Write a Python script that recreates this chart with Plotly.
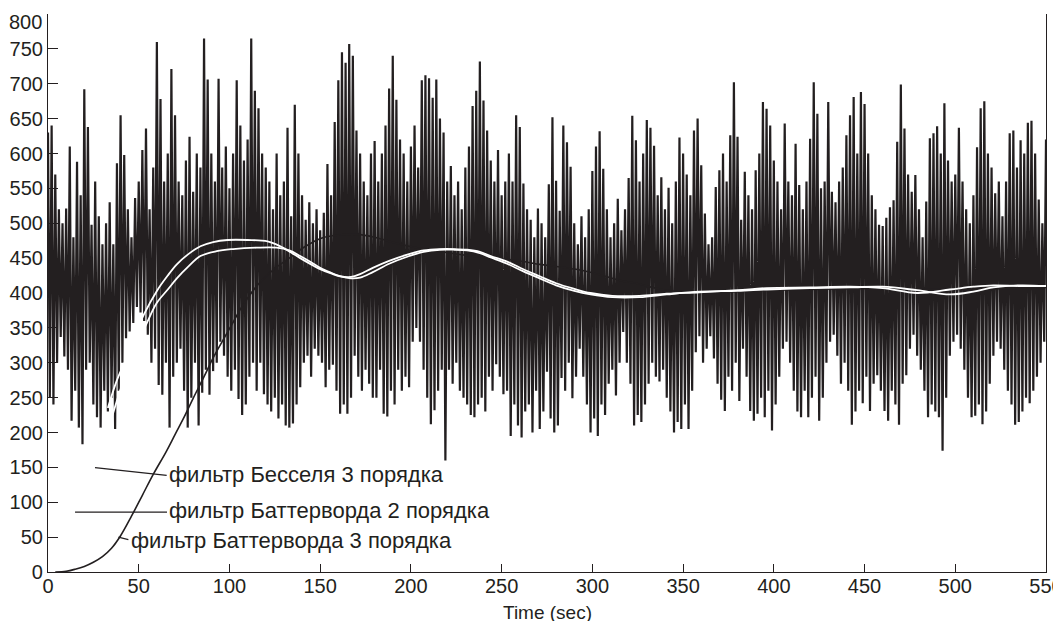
import plotly.graph_objects as go

# ---------------- data ----------------
# raw signal: local maxima sampled at even seconds, local minima at odd seconds
signal_highs = [
    630, 640, 570, 520, 500, 521, 610, 480, 588, 540,
    692, 638, 498, 560, 510, 470, 500, 530, 470, 586,
    655, 598, 520, 480, 536, 560, 605, 636, 520, 580,
    760, 678, 560, 600, 721, 655, 560, 540, 590, 624,
    545, 600, 580, 765, 706, 600, 560, 707, 580, 610,
    550, 600, 705, 640, 590, 620, 765, 690, 665, 600,
    580, 560, 520, 600, 540, 560, 637, 510, 670, 600,
    540, 505, 530, 500, 520, 490, 515, 585, 540, 645,
    705, 745, 730, 757, 740, 633, 600, 560, 540, 600,
    618, 560, 600, 640, 693, 740, 677, 620, 600, 560,
    610, 640, 580, 705, 712, 708, 680, 706, 650, 630,
    560, 582, 540, 560, 520, 580, 610, 668, 690, 732,
    676, 633, 590, 560, 605, 540, 560, 600, 560, 655,
    638, 557, 520, 505, 480, 521, 500, 480, 556, 652,
    561, 518, 640, 616, 581, 500, 470, 510, 480, 520,
    575, 610, 632, 578, 520, 480, 500, 535, 490, 520,
    565, 654, 619, 560, 600, 648, 637, 611, 540, 566,
    520, 551, 500, 560, 623, 600, 570, 540, 633, 650,
    583, 514, 470, 480, 552, 576, 600, 560, 626, 702,
    624, 505, 574, 540, 520, 576, 600, 674, 664, 640,
    590, 560, 520, 643, 560, 540, 614, 555, 520, 560,
    621, 702, 657, 550, 560, 674, 545, 530, 560, 580,
    626, 655, 681, 600, 688, 671, 600, 540, 520, 498,
    496, 508, 523, 533, 617, 699, 636, 570, 545, 569,
    520, 480, 531, 622, 629, 639, 600, 672, 590, 560,
    570, 637, 560, 520, 500, 540, 609, 665, 675, 600,
    580, 543, 560, 510, 560, 629, 633, 580, 619, 600,
    644, 647, 600, 534, 500, 620,
]
signal_lows = [
    250, 240, 300, 337, 309, 290, 217, 260, 207, 183,
    290, 300, 240, 222, 207, 260, 230, 250, 205, 260,
    300, 335, 345, 357, 380, 372, 360, 340, 300, 320,
    268, 254, 300, 207, 280, 300, 320, 260, 207, 250,
    300, 210, 257, 290, 254, 288, 300, 330, 310, 280,
    260, 290, 248, 225, 240, 280, 300, 260, 300, 255,
    240, 230, 250, 220, 240, 210, 207, 213, 240, 265,
    300, 310, 280, 320, 310, 300, 265, 290, 297, 260,
    227, 240, 227, 250, 310, 280, 260, 290, 270, 250,
    250, 290, 227, 223, 260, 240, 290, 260, 280, 265,
    330, 350, 330, 290, 250, 212, 232, 260, 290, 160,
    290, 270, 300, 260, 250, 240, 225, 222, 240, 250,
    230, 280, 260, 298, 280, 255, 260, 195, 240, 210,
    193, 230, 240, 200, 260, 205, 230, 287, 220, 200,
    210, 278, 260, 300, 249, 280, 320, 280, 240, 200,
    220, 195, 240, 225, 270, 290, 253, 300, 344, 300,
    270, 210, 225, 215, 240, 270, 300, 280, 273, 290,
    250, 230, 200, 215, 205, 240, 205, 260, 315, 338,
    300, 320, 338, 306, 270, 247, 231, 280, 260, 300,
    245, 320, 280, 231, 217, 227, 250, 222, 260, 203,
    240, 280, 320, 330, 300, 260, 230, 222, 260, 222,
    250, 280, 217, 250, 300, 330, 340, 310, 270, 300,
    260, 211, 230, 260, 242, 280, 231, 270, 282, 260,
    231, 217, 260, 240, 211, 270, 282, 320, 340, 310,
    290, 260, 222, 240, 230, 222, 174, 250, 310, 330,
    340, 320, 290, 250, 222, 224, 240, 212, 230, 270,
    310, 330, 320, 290, 260, 240, 211, 215, 230, 250,
    242, 260, 280, 300, 330,
]

# Butterworth 3rd order (black curve)
bw3_t = [4, 10, 15, 20, 25, 30, 35, 40, 46, 52, 58, 65, 70, 75, 80, 86, 91, 97, 102, 107,
         116, 125, 133, 142, 151, 160, 170, 180, 188, 199, 210, 225, 240, 260, 271,
         280, 291, 300, 307, 317, 324, 338, 350, 370, 400, 450, 500, 550]
bw3_v = [0, 1, 4, 8, 14, 22, 34, 52, 80, 110, 140, 172, 197, 222, 249, 280, 307, 335, 358, 381,
         413, 435, 450, 467, 479, 483, 484, 480, 474, 467, 462, 456, 451, 446, 441,
         438, 434, 429, 424, 417, 414, 405, 402, 401, 404, 406, 405, 408]

# Butterworth 2nd order (white, upper)
bw2_t = [33, 38, 43, 48, 53, 60, 66, 71, 77, 84, 91, 99, 110, 121, 128, 134, 139, 145,
         150, 156, 161, 167, 172, 179, 188, 198, 207, 216, 224, 231, 238, 244, 253, 262,
         271, 280, 290, 299, 311, 326, 341, 359, 380, 396, 420, 442, 460, 479, 497, 510,
         521, 535, 550]
bw2_v = [235, 275, 305, 340, 370, 403, 425, 441, 455, 467, 473, 476, 476, 474, 467, 458,
         450, 441, 434, 428, 424, 423, 427, 436, 446, 455, 461, 463, 463, 462, 459, 453,
         445, 434, 424, 414, 406, 400, 396, 396, 399, 401, 404, 407, 408, 409, 407, 400,
         405, 409, 411, 410, 410]

# Bessel 3rd order (white, lower)
bes3_t = [35, 40, 45, 50, 55, 60, 66, 71, 77, 84, 93, 102, 115, 126, 133, 139, 145, 150,
          156, 161, 167, 172, 179, 188, 198, 207, 216, 224, 231, 238, 244, 253, 262, 271,
          280, 290, 299, 311, 326, 341, 359, 380, 396, 420, 442, 460, 479, 497, 510, 521,
          535, 550]
bes3_v = [220, 262, 298, 330, 360, 386, 405, 421, 437, 453, 460, 463, 465, 465, 461, 453,
          444, 436, 429, 424, 421, 422, 430, 442, 452, 459, 462, 462, 461, 457, 451, 442,
          431, 421, 411, 403, 398, 394, 394, 398, 402, 403, 405, 407, 408, 409, 404, 398,
          402, 408, 411, 410, 410]

x_ticks = list(range(0, 551, 50))
y_ticks = list(range(0, 801, 50))

labels = ["фильтр Бесселя 3 порядка",
          "фильтр Баттерворда 2 порядка",
          "фильтр Баттерворда 3 порядка"]
x_title = "Time (sec)"

# ---------------- build signal ----------------
pts = [(2 * i, v) for i, v in enumerate(signal_highs)] + \
      [(2 * i + 1, v) for i, v in enumerate(signal_lows)]
pts.sort()
sig_t = [p[0] for p in pts]
sig_v = [p[1] for p in pts]

INK = "#231f20"
FONT = "Liberation Sans, Arial, sans-serif"

fig = go.Figure()
fig.add_trace(go.Scatter(x=sig_t, y=sig_v, mode="lines",
                         line=dict(color=INK, width=2.2), name="signal"))
fig.add_trace(go.Scatter(x=bw3_t, y=bw3_v, mode="lines", line_shape="spline",
                         line=dict(color=INK, width=1.6), name=labels[2]))
fig.add_trace(go.Scatter(x=bes3_t, y=bes3_v, mode="lines", line_shape="spline",
                         line=dict(color="white", width=1.8), name=labels[0]))
fig.add_trace(go.Scatter(x=bw2_t, y=bw2_v, mode="lines", line_shape="spline",
                         line=dict(color="white", width=1.8), name=labels[1]))

# leader lines + labels
leaders = [((25.9, 149.6), (65.4, 138.6)),
           ((14.9, 85.7), (65.6, 85.7)),
           ((38.8, 50.0), (44.3, 46.5))]
label_pos = [(65.8, 140), (65.8, 88), (44.8, 45)]
for (p0, p1) in leaders:
    fig.add_shape(type="line", x0=p0[0], y0=p0[1], x1=p1[0], y1=p1[1],
                  xref="x", yref="y", line=dict(color=INK, width=1.2))
for txt, (lx, ly) in zip(labels, label_pos):
    fig.add_annotation(x=lx, y=ly, xref="x", yref="y", text=txt, showarrow=False,
                       xanchor="left", yanchor="middle",
                       font=dict(family=FONT, size=22, color=INK))

# x-axis title placed as text below the tick labels
fig.add_annotation(x=0.5, y=-40 / 558, xref="paper", yref="paper", text=x_title,
                   showarrow=False, xanchor="center", yanchor="middle",
                   font=dict(family=FONT, size=19, color=INK))

# top y label sits a little below its tick (as in the reference)
y_top = y_ticks[-1]
fig.add_annotation(x=0, y=y_top, xref="paper", yref="y", text=str(y_top),
                   showarrow=False, xanchor="right", yanchor="middle",
                   xshift=-4, yshift=-8,
                   font=dict(family=FONT, size=20, color=INK))

# the page body has an 8px margin, so the figure is offset by 8px in the window
fig.update_layout(
    width=1053, height=630,
    margin=dict(l=40, r=15, t=6, b=66, autoexpand=False),
    paper_bgcolor="white", plot_bgcolor="white",
    showlegend=False,
    font=dict(family=FONT, size=20, color=INK),
)
fig.update_xaxes(range=[0, 550], tickvals=x_ticks, ticktext=[str(v) for v in x_ticks],
                 ticks="inside", ticklen=8, tickcolor=INK, showline=True,
                 linecolor=INK, linewidth=1.2, showgrid=False, zeroline=False,
                 mirror=False, automargin=False, ticklabelstandoff=-4,
                 ticklabeloverflow="allow",
                 tickfont=dict(family=FONT, size=20, color=INK))
fig.update_yaxes(range=[0, 800], tickvals=y_ticks,
                 ticktext=[str(v) if v != y_top else "" for v in y_ticks],
                 ticks="inside", ticklen=10, tickcolor=INK, showline=True,
                 linecolor=INK, linewidth=1.2, showgrid=False, zeroline=False,
                 mirror=True, automargin=False, ticklabelstandoff=0,
                 ticklabeloverflow="allow",
                 tickfont=dict(family=FONT, size=20, color=INK))

fig.write_html("out.html")
